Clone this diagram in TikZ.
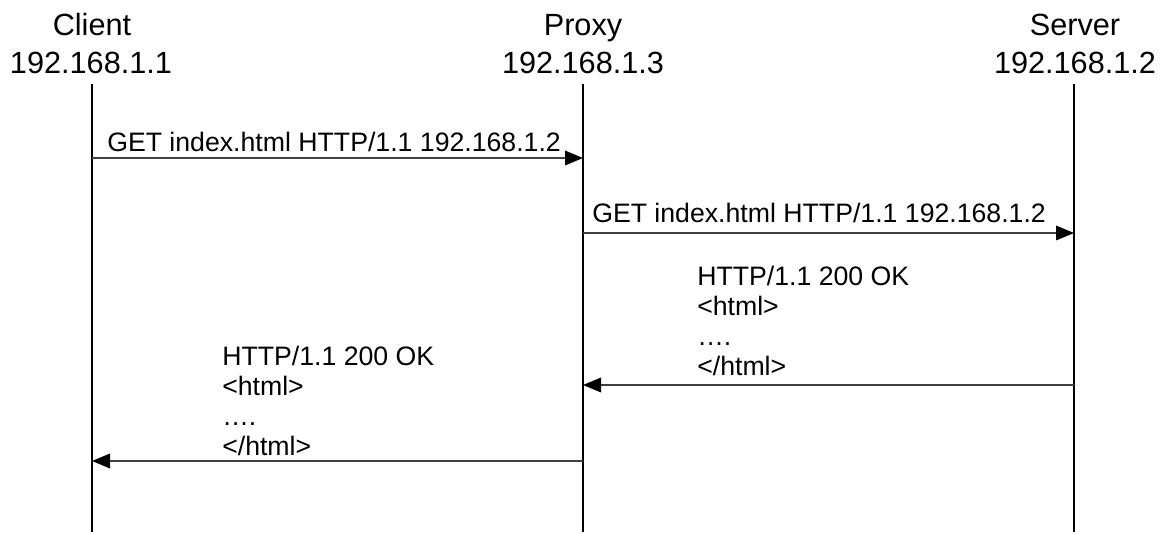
\documentclass[tikz,border=0pt]{standalone}
\usepackage{fontspec}
\setmainfont{Liberation Sans}
\usetikzlibrary{arrows.meta}
\begin{document}
\begin{tikzpicture}[x=0.75pt,y=-0.75pt,
 hdr/.style={font=\fontsize{23}{28}\selectfont, inner sep=0pt, anchor=base},
 msg/.style={font=\fontsize{20}{22.5}\selectfont, inner sep=0pt, anchor=base west, align=left},
 reply/.style={font=\fontsize{20}{22.5}\selectfont, inner sep=0pt, anchor=north west, align=left},
 life/.style={draw=black, line width=0.9pt},
 arr/.style={draw=black!75, line width=0.9pt, -{Triangle[length=13.5pt,width=11pt,color=black]}}]
\useasboundingbox[fill=white] (0,0) rectangle (1166,532);
% headers
\node[hdr] (cname) at (92,35) {Client};
\node[hdr] (cip) at (91,73) {192.168.1.1};
\node[hdr] (pname) at (583,35) {Proxy};
\node[hdr] (pip) at (583,73) {192.168.1.3};
\node[hdr] (sname) at (1075,35) {Server};
\node[hdr] (sip) at (1075,73) {192.168.1.2};
% lifelines
\coordinate (ctop) at (92,84);  \coordinate (cbot) at (92,532);
\coordinate (ptop) at (583,84); \coordinate (pbot) at (583,532);
\coordinate (stop) at (1074,84); \coordinate (sbot) at (1074,532);
\draw[life] (ctop) -- (cbot);
\draw[life] (ptop) -- (pbot);
\draw[life] (stop) -- (sbot);
% message endpoints
\coordinate (m1a) at (92,158);  \coordinate (m1b) at (583,158);
\coordinate (m2a) at (583,233); \coordinate (m2b) at (1074,233);
\coordinate (m3a) at (1074,385); \coordinate (m3b) at (583,385);
\coordinate (m4a) at (583,461); \coordinate (m4b) at (92,461);
\draw[arr] (m1a) -- (m1b);
\draw[arr] (m2a) -- (m2b);
\draw[arr] (m3a) -- (m3b);
\draw[arr] (m4a) -- (m4b);
% labels
\node[msg] (l1) at (107,151) {GET index.html HTTP/1.1 192.168.1.2};
\node[msg] (l2) at (592,222) {GET index.html HTTP/1.1 192.168.1.2};
\node[reply] (l3) at (697,266) {HTTP/1.1 200 OK\\<html>\\….\\</html>};
\node[reply] (l4) at (222,346) {HTTP/1.1 200 OK\\<html>\\….\\</html>};
\end{tikzpicture}
\end{document}
